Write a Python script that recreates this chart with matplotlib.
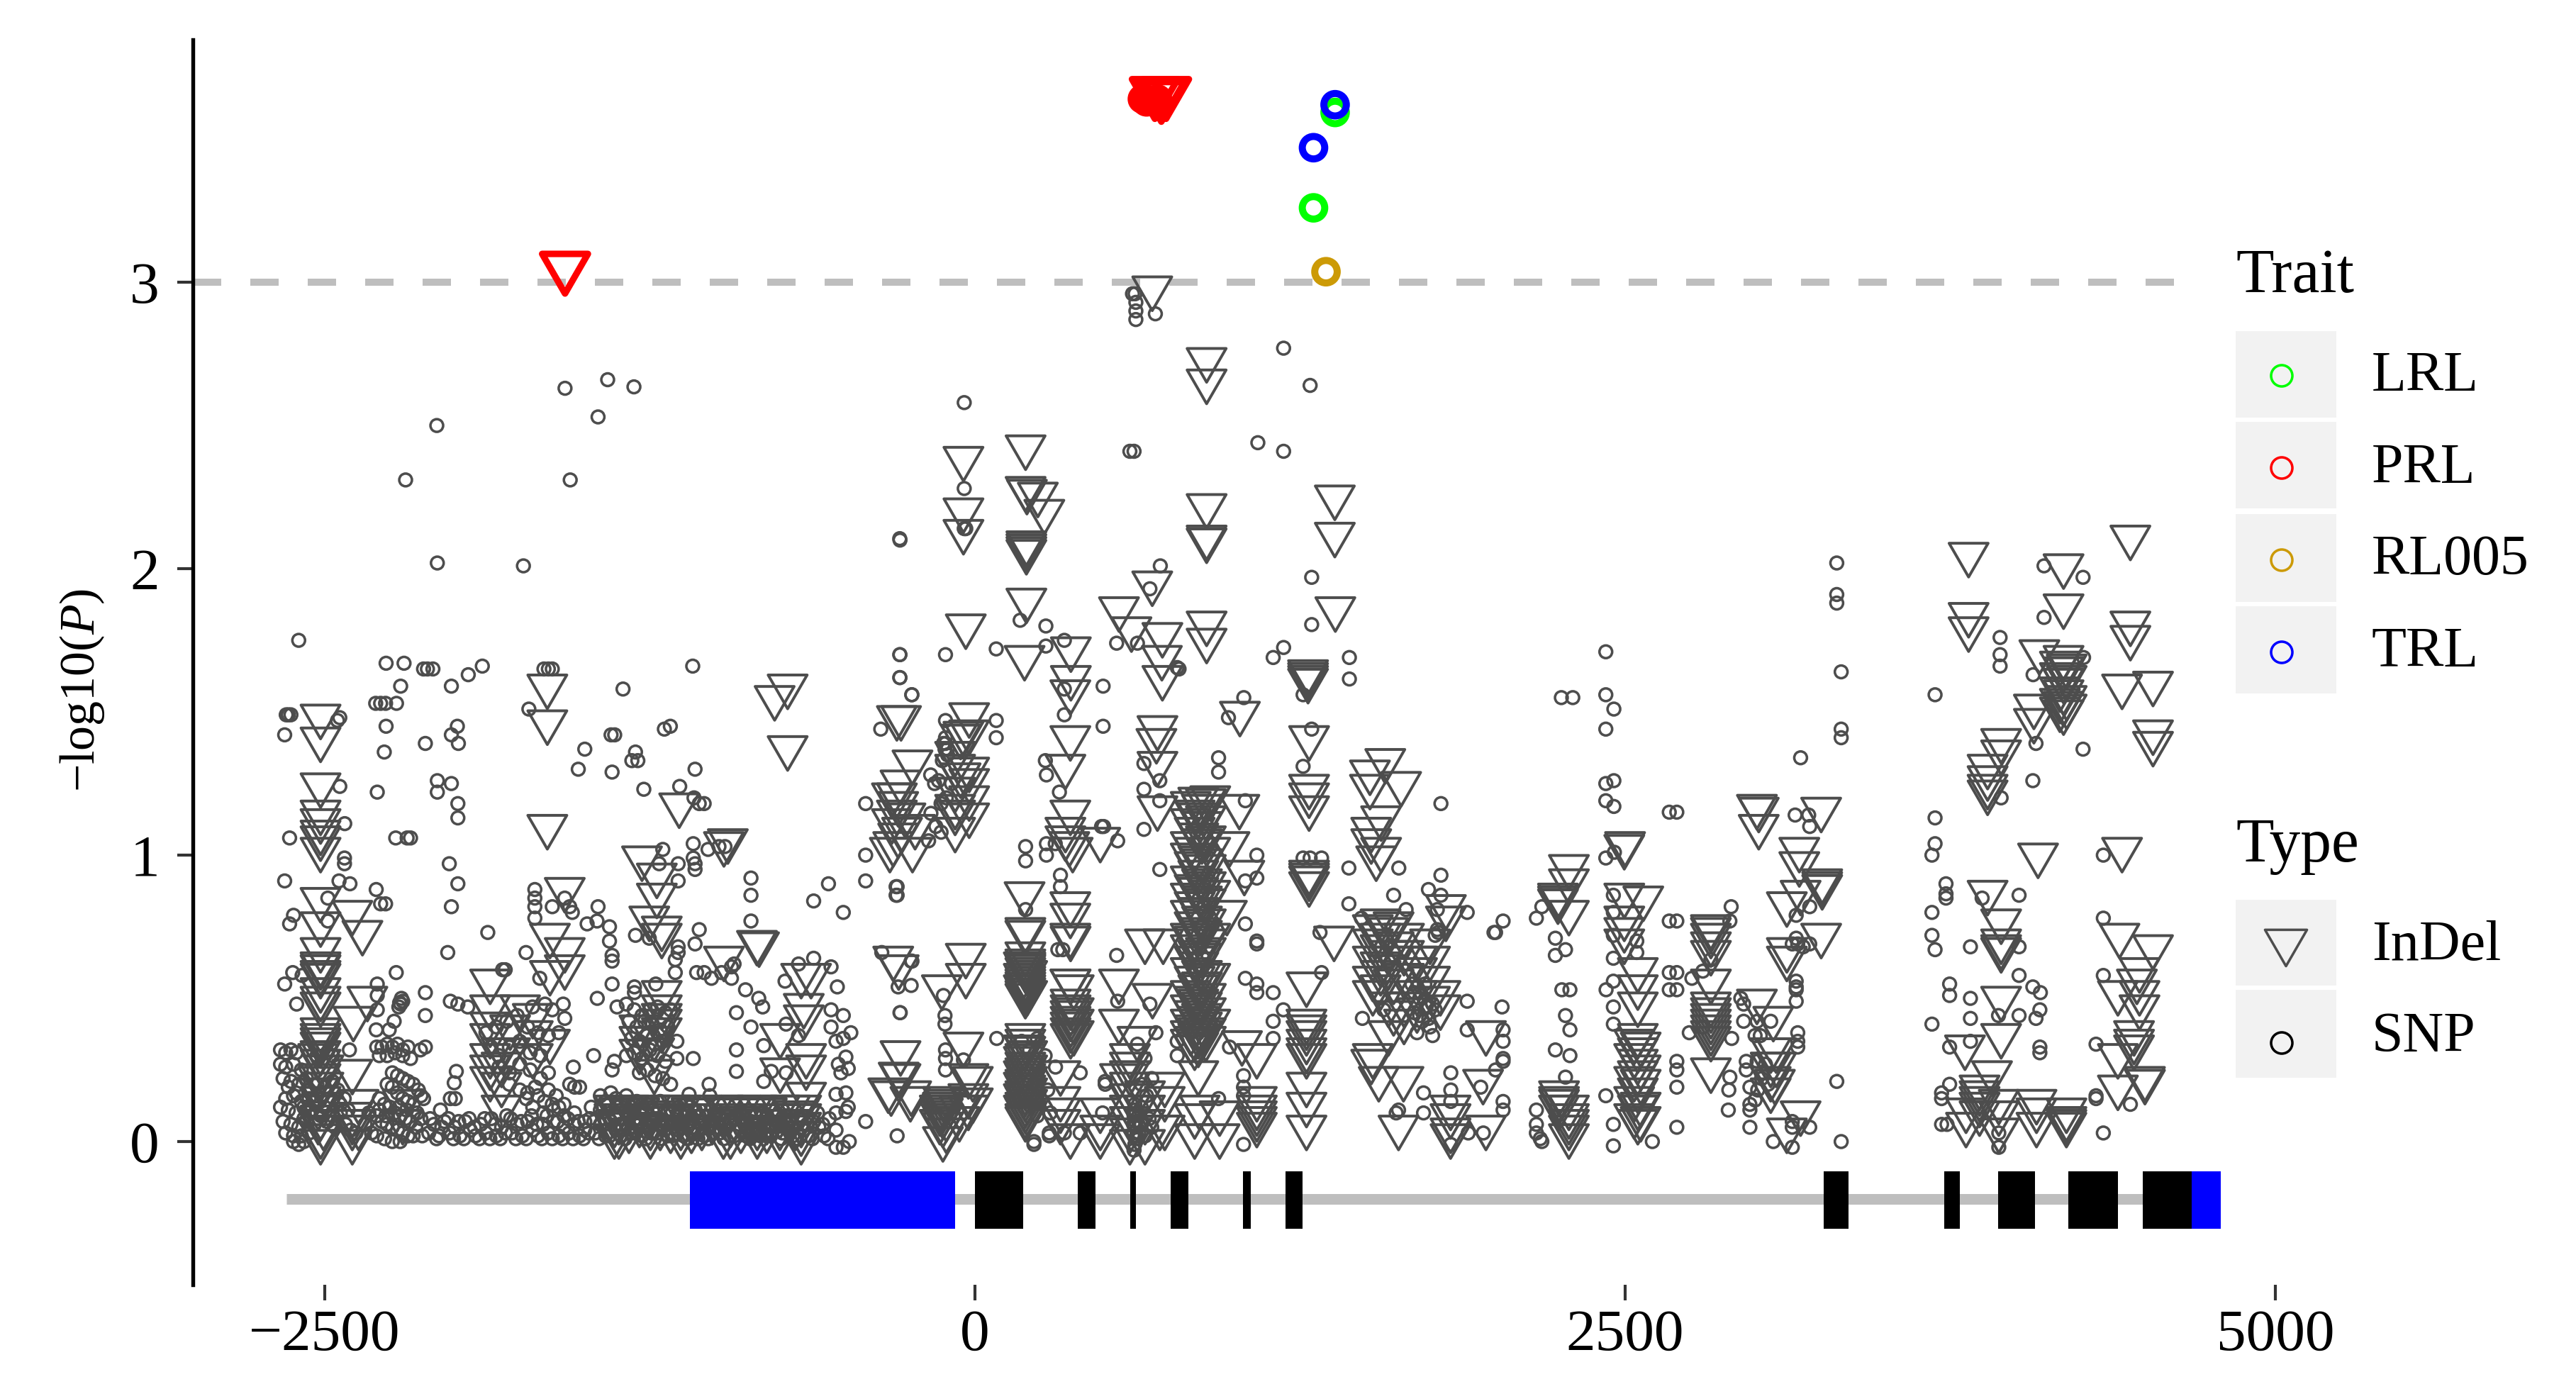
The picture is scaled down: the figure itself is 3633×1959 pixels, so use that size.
import matplotlib
matplotlib.use('Agg')
import matplotlib.pyplot as plt
from matplotlib.path import Path
from matplotlib.patches import Rectangle

W, H = 3633, 1959
DPI = 300

plt.rcParams['font.family'] = ['Liberation Serif', 'DejaVu Serif']
plt.rcParams['mathtext.fontset'] = 'custom'
plt.rcParams['mathtext.rm'] = 'Liberation Serif'
plt.rcParams['mathtext.it'] = 'Liberation Serif:italic'

# gene model
utr_start = [-1096, 4678]
utr_end = [-76, 4790]
exon_start = [0, 395, 598, 752, 1030, 1194, 3263, 3727, 3934, 4204, 4490]
exon_end = [185, 463, 618, 820, 1060, 1260, 3360, 3787, 4076, 4395, 4678]
gene_span = [-2648, 4678]
threshold = 3

# significant hits
lrl_x = [1385, 1302]
lrl_y = [3.593, 3.26]
trl_x = [1302, 1385]
trl_y = [3.47, 3.62]
rl005_x = [1350]
rl005_y = [3.037]
prl_snp_x = [644, 660, 673, 690, 702]
prl_snp_y = [3.64, 3.63, 3.637, 3.63, 3.64]
prl_indel_x = [-1576, 692, 717, 735]
prl_indel_y = [3.03, 3.64, 3.63, 3.64]

# SNPs, by region of the gene
snp_upper_left = [(-2600, 1.75), (-2067, 2.02), (-1736, 2.01), (-288, 2.10), (-288, 1.70), (-288, 1.62), (-242, 1.56), (-362, 1.44),
    (-2648, 1.49), (-2640, 1.49), (-2630, 1.49), (-2654, 1.42), (-2442, 1.48), (-2451, 1.47), (-2264, 1.67), (-2195, 1.67),
    (-2120, 1.65), (-2105, 1.65), (-2084, 1.65), (-2208, 1.59), (-1948, 1.63), (-1894, 1.66), (-2013, 1.59),
    (-2304, 1.53), (-2285, 1.53), (-2266, 1.53), (-2224, 1.53), (-2264, 1.45), (-2271, 1.36), (-2298, 1.22), (-2113, 1.39),
    (-1990, 1.45), (-2013, 1.42), (-1986, 1.39), (-2067, 1.26), (-2013, 1.25), (-2067, 1.22), (-1988, 1.18), (-1988, 1.13),
    (-2227, 1.06), (-2183, 1.06), (-2170, 1.06), (-2442, 1.24), (-2423, 1.11), (-2635, 1.06), (-2424, .99), (-2424, .97),
    (-2654, .91), (-2445, .91), (-2403, .90), (-2488, .85), (-2302, .88), (-2285, .83), (-2266, .83), (-2021, .97),
    (-1988, .90), (-2013, .82), (-1873, .73), (-2027, .66), (-1726, .66), (-2620, .79), (-2635, .76), (-2488, .77),
    (-2189, 2.31), (-2069, 2.50), (-1576, 2.63), (-1412, 2.66), (-1311, 2.635), (-1449, 2.53), (-1556, 2.31),
    (-1640, 1.65), (-1657, 1.65), (-1625, 1.65), (-1715, 1.51), (-1353, 1.58), (-1085, 1.66), (-1500, 1.37), (-1525, 1.30),
    (-1399, 1.42), (-1385, 1.42), (-1395, 1.29), (-1305, 1.36), (-1319, 1.33), (-1296, 1.33), (-1273, 1.23), (-1076, 1.30),
    (-1194, 1.44), (-1171, 1.45), (-1135, 1.24), (-1080, 1.20), (-1060, 1.18), (-1041, 1.18), (-1200, 1.02), (-1083, 1.04),
    (-1026, 1.02), (-984, 1.03), (-961, 1.03), (-1141, .97), (-1083, .99), (-1076, .97), (-1076, .95), (-1214, .97),
    (-1141, .91), (-861, .92), (-861, .86), (-861, .77), (-563, .90), (-620, .84), (-506, .80), (-420, 1.18), (-420, 1.0),
    (-420, .91), (-299, .89), (-299, .86), (-121, 1.39), (-115, 1.37), (-105, 1.35), (-125, 1.33), (-170, 1.28), (-155, 1.25),
    (-140, 1.26), (-169, 1.146), (-178, 1.05), (-150, 1.1), (-130, 1.08), (-130, 1.18), (-110, 1.2), (-90, 1.25)]

snp_mid_left = [(-2654, .55), (-2623, .59), (-2587, .58), (-2225, .59), (-2298, .55), (-2608, .48), (-2298, .51), (-2298, .46),
    (-2208, .48), (-2200, .49), (-2215, .47), (-2205, .5), (-2212, .485), (-2113, .52), (-2113, .44), (-2302, .39), (-2252, .39), (-2233, .42),
    (-2113, .33), (-2132, .32), (-2405, .32), (-1692, .88), (-1692, .85), (-1692, .82), (-1692, .78), (-1625, .82),
    (-1577, .85), (-1558, .82), (-1548, .80), (-1449, .82), (-1453, .77), (-1491, .76), (-1405, .75), (-1405, .70),
    (-1395, .65), (-1395, .63), (-1305, .72), (-1252, .71), (-1395, .55), (-1452, .50), (-1376, .47), (-1309, .54),
    (-1309, .52), (-1227, .55), (-1152, .59), (-1152, .635), (-1141, .68), (-1141, .66), (-1060, .74), (-1076, .69),
    (-1070, .59), (-1041, .59), (-1013, .57), (-974, .59), (-936, .61), (-926, .62), (-936, .57), (-882, .53), (-831, .50),
    (-816, .47), (-917, .45), (-861, .40), (-730, .56), (-678, .62), (-620, .64), (-553, .61), (-529, .54), (-812, .335),
    (-726, .41), (-678, .37), (-917, .32), (-917, .245), (-812, .21), (-1083, .29), (-783, .245), (-726, .24),
    (-553, .46), (-506, .44), (-477, .38), (-553, .40), (-506, .36), (-534, .35), (-496, .295), (-525, .27), (-487, .255),
    (-515, .24), (-534, .165), (-496, .17), (-487, .12), (-534, .10), (-496, .105), (-534, .04), (-534, -.02), (-506, -.02),
    (-483, 0), (-358, .66), (-242, .63), (-295, .54), (-288, .45), (-299, .02), (-420, .07), (-1583, .48), (-1577, .43),
    (-1544, .26), (-1466, .30), (-1386, .28), (-1395, .25), (-1146, .35), (-1146, .29), (-1099, .165), (-1022, .20),
    (-1019, .16), (-1994, .245), (-2002, .205), (-2017, .15), (-1998, .15), (-2055, .11), (-2017, .49), (-1988, .48),
    (-1950, .47), (-1806, .60), (-1816, .60), (-1673, .57), (-1701, .47), (-1653, .48), (-1625, .46), (-1558, .20),
    (-1539, .19), (-1520, .19)]

snp_dense_left = [(-2670, .32), (-2650, .31), (-2630, .32), (-2610, .31), (-2670, .27), (-2650, .26), (-2620, .27), (-2590, .25),
    (-2660, .22), (-2630, .21), (-2600, .2), (-2570, .22), (-2650, .15), (-2620, .16), (-2590, .14), (-2560, .15),
    (-2670, .12), (-2640, .11), (-2610, .1), (-2580, .12), (-2550, .11), (-2660, .07), (-2630, .06), (-2600, .05),
    (-2570, .07), (-2540, .06), (-2650, .03), (-2620, .02), (-2590, .02), (-2560, .03), (-2620, 0), (-2600, -.01), (-2580, 0),
    (-2530, .3), (-2510, .28), (-2490, .31), (-2470, .3), (-2530, .2), (-2500, .19), (-2470, .21), (-2450, .18), (-2530, .1),
    (-2500, .12), (-2470, .09), (-2440, .1), (-2420, .06), (-2400, .04), (-2380, .03), (-2560, .18), (-2545, .14), (-2530, .16),
    (-2515, .09), (-2490, .07), (-2460, .05), (-2440, .13), (-2425, .15), (-2410, .11), (-2640, .19), (-2610, .17), (-2580, .08),
    (-2300, .33), (-2280, .33), (-2260, .34), (-2240, .33), (-2220, .34), (-2200, .32), (-2180, .33), (-2290, .3), (-2260, .3),
    (-2230, .31), (-2200, .3), (-2170, .29), (-2240, .24), (-2220, .23), (-2200, .22), (-2180, .21), (-2160, .2), (-2140, .18),
    (-2130, .16), (-2120, .15), (-2260, .2), (-2240, .19), (-2220, .17), (-2200, .15), (-2180, .14), (-2160, .13), (-2290, .15),
    (-2270, .13), (-2250, .12), (-2230, .1), (-2210, .09), (-2190, .08), (-2170, .07), (-2300, .09), (-2280, .07), (-2260, .06),
    (-2240, .05), (-2220, .04), (-2200, .03), (-2180, .02), (-2160, .02), (-2150, .05), (-2300, .02), (-2270, .01), (-2240, 0),
    (-2210, 0), (-2330, .1), (-2345, .06), (-2320, .03), (-2290, .11), (-2265, .09), (-2215, .12), (-2185, .11), (-2145, .1),
    (-1880, .38), (-1840, .40), (-1800, .42), (-1760, .44), (-1720, .40), (-1680, .38), (-1640, .37), (-1600, .38), (-1860, .33),
    (-1830, .30), (-1790, .33), (-1750, .35), (-1710, .31), (-1670, .30), (-1830, .26), (-1790, .24), (-1750, .27), (-1710, .25),
    (-1670, .22), (-1640, .24), (-1790, .20), (-1750, .18), (-1720, .17), (-1680, .16), (-1640, .18), (-1610, .16), (-1580, .13),
    (-1700, .12), (-1660, .1), (-1620, .11), (-1580, .09), (-1540, .10), (-1500, .07), (-1725, .15), (-1690, .19), (-1655, .14),
    (-1625, .13), (-1600, .12),
    (-1340, .48), (-1310, .46), (-1280, .44), (-1250, .46), (-1220, .47), (-1190, .45), (-1170, .46), (-1330, .42), (-1300, .40),
    (-1270, .42), (-1240, .41), (-1210, .39), (-1180, .40), (-1320, .36), (-1290, .35), (-1260, .37), (-1230, .34), (-1200, .35),
    (-1340, .3), (-1310, .31), (-1280, .29), (-1250, .32), (-1220, .30), (-1190, .28), (-1290, .24), (-1260, .25), (-1230, .23),
    (-1200, .22), (-1170, .2), (-1440, .16), (-1420, .14), (-1400, .17), (-1380, .15), (-1360, .13), (-1340, .16), (-1320, .12),
    (-1300, .14), (-1280, .11), (-1260, .13)]

snp_baseline_left = [(-2130, .08), (-2100, .03), (-2080, .06), (-2060, .02), (-2040, .07), (-2020, .03), (-2000, .05), (-1980, .02),
    (-1960, .07), (-1940, .04), (-1920, .02), (-1900, .06), (-1880, .03), (-1860, .08), (-1840, .02), (-1820, .05),
    (-1800, .09), (-1780, .03), (-1760, .06), (-1740, .02), (-1720, .07), (-1700, .04), (-1680, .02), (-1660, .06),
    (-1640, .03), (-1620, .07), (-1600, .02), (-1580, .05), (-1560, .03), (-1540, .06), (-1520, .02), (-1500, .04),
    (-1480, .08), (-1460, .03), (-1440, .06), (-1420, .02), (-1400, .07), (-1380, .04), (-1360, .02), (-1340, .06),
    (-1320, .03), (-1300, .08), (-1280, .02), (-1260, .05), (-1240, .08), (-1220, .03), (-1200, .06), (-1180, .02),
    (-1160, .07), (-1140, .04), (-1120, .02), (-1100, .06), (-1080, .03), (-1060, .09), (-1040, .02), (-1020, .05),
    (-1000, .1), (-980, .03), (-960, .06), (-940, .02), (-920, .08), (-900, .04), (-880, .02), (-860, .07), (-840, .03),
    (-820, .1), (-800, .02), (-780, .05), (-760, .09), (-740, .03), (-720, .06), (-700, .02), (-680, .08), (-660, .04),
    (-640, .02), (-620, .07), (-600, .05), (-580, .02), (-560, .08)]

snp_baseline_more = [(-2125, .02), (-2095, .08), (-2070, .01), (-2050, .05), (-2025, .08), (-2005, .01), (-1985, .07), (-1965, .01),
    (-1945, .08), (-1925, .05), (-1905, .01), (-1885, .08), (-1865, .01), (-1845, .06), (-1825, .01), (-1805, .03),
    (-1785, .08), (-1765, .01), (-1745, .07), (-1725, .01), (-1705, .09), (-1685, .06), (-1665, .01), (-1645, .09),
    (-1625, .01), (-1605, .07), (-1585, .01), (-1565, .08), (-1545, .01), (-1525, .07), (-1505, .01), (-1485, .03),
    (-1465, .07), (-1445, .01), (-1425, .08), (-1405, .02), (-1385, .09), (-1365, .06), (-1345, .01), (-1325, .09),
    (-1305, .03), (-1285, .07), (-1265, .01), (-1245, .03), (-1225, .08), (-1205, .01), (-1185, .07), (-1165, .02),
    (-1145, .09), (-1125, .06), (-1105, .01), (-1085, .08), (-1065, .01), (-1045, .07), (-1025, .01), (-1005, .03),
    (-985, .09), (-965, .01), (-945, .07), (-925, .02), (-905, .1), (-885, .06), (-865, .01), (-845, .09), (-825, .02),
    (-805, .08), (-785, .02), (-765, .06), (-745, .01), (-725, .09), (-705, .05), (-685, .01), (-665, .09), (-645, .06),
    (-625, .01), (-605, .1), (-585, .06), (-565, .01), (-1475, .12), (-1440, .11), (-1410, .13), (-1375, .12), (-1340, .11),
    (-1310, .13), (-1275, .12), (-1240, .11), (-1210, .14), (-1180, .11), (-1140, .12), (-1110, .13), (-1075, .11)]

snp_centre = [(-41, 2.58), (1187, 2.77), (1289, 2.64), (1088, 2.44), (1187, 2.41), (596, 2.41), (612, 2.41), (616, 2.96), (606, 2.96),
    (619, 2.93), (619, 2.90), (619, 2.87), (694, 2.89), (-41, 2.28), (-41, 2.14), (-35, 2.14), (-289, 2.105), (713, 2.01),
    (673, 1.93), (1295, 1.97), (1295, 1.805), (174, 1.82), (273, 1.80), (82, 1.72), (273, 1.73), (344, 1.75), (-113, 1.70),
    (-289, 1.70), (-289, 1.62), (-243, 1.56), (545, 1.74), (625, 1.74), (1187, 1.725), (1147, 1.69), (1440, 1.69), (1440, 1.615),
    (778, 1.655), (785, 1.65), (493, 1.59), (344, 1.58), (344, 1.49), (493, 1.45), (1034, 1.55), (975, 1.48), (1262, 1.56),
    (1295, 1.44), (-113, 1.47), (82, 1.47), (82, 1.41), (-113, 1.41), (-113, 1.39), (-105, 1.37), (271, 1.33), (275, 1.28),
    (325, 1.22), (650, 1.32), (711, 1.26), (650, 1.23), (711, 1.19), (650, 1.09), (937, 1.34), (937, 1.29), (1040, 1.19),
    (1262, 1.31), (195, 1.03), (195, .98), (275, 1.04), (275, 1.0), (309, 1.04), (495, 1.10), (487, 1.10), (549, 1.05),
    (1084, 1.0), (1084, .92), (1040, .91), (711, .95), (1262, .99), (1289, .99), (1333, .99), (1438, .955), (1630, .955),
    (1792, .93), (1792, 1.18), (1438, .83), (1486, .78), (1658, .81), (1610, .86), (1744, .88), (1792, .86), (1778, .81), (1778, .74),
    (1782, .73), (1770, .72), (1893, .80), (2031, .77), (2002, .73), (1996, .73), (-303, .89), (-303, .86), (195, .81), (329, .93),
    (329, .89), (319, .67), (338, .67), (545, .65), (549, .49), (673, .48), (1040, .76), (1084, .70), (1084, .69), (1327, .73),
    (1040, .57), (1084, .55), (1084, .52), (1147, .52), (1186, .46), (1147, .42), (1147, .36), (1333, .59), (1572, .46),
    (1490, .43), (1893, .49), (2027, .47), (1893, .39), (-245, .63), (-245, .545), (-287, .45), (-121, .51), (-115, .44), (-115, .41),
    (-113, .32), (-113, .29), (-44, .285), (-113, .25), (84, .36), (227, 0), (227, -.01), (286, .03), (286, .02), (344, .03),
    (405, .24), (405, .03), (501, .21), (501, .2), (491, .10), (696, .38), (625, .34), (654, .29), (778, .35), (778, .30),
    (979, .33), (937, .15), (1033, .23), (1033, .19), (1033, .16), (1033, -.01), (1830, .24), (1725, .17), (1830, .18), (1830, .14),
    (1629, .11), (1620, .10), (1725, .10), (1830, -.01), (1897, .03), (1955, .03), (2031, .39), (2031, .35), (2031, .29), (2031, .28),
    (2002, .25), (1945, .19), (2031, .14), (2031, .11), (180, .35), (210, .32), (240, .36), (270, .3), (200, .25), (240, .22),
    (280, .18), (310, .26), (190, .12), (240, .09), (290, .1), (640, .2), (660, .16), (680, .22), (640, .12), (670, .08), (640, .06),
    (630, .03), (655, .02), (680, .05), (1680, .55), (1710, .5), (1730, .55), (1760, .48), (1690, .45), (1720, .42), (1750, .4),
    (615, .13), (615, .11), (612, .09), (618, .07), (615, .05), (612, .03), (618, .01), (615, -.01), (612, -.03),
    (620, .1), (610, .06), (622, .02), (1690, .52), (1710, .44), (1735, .47), (1745, .43), (1770, .46), (1700, .38), (1760, .37)]

snp_right = [(3314, 2.02), (3314, 1.91), (3314, 1.88), (3331, 1.64), (3331, 1.44), (3331, 1.41), (3175, 1.34), (2426, 1.71), (2426, 1.56),
    (2457, 1.51), (2426, 1.44), (2255, 1.55), (2299, 1.55), (2426, 1.25), (2457, 1.26), (2426, 1.19), (2457, 1.17), (2670, 1.15),
    (2699, 1.15), (3154, 1.14), (3206, 1.14), (3210, 1.10), (2459, 1.01), (2426, .99), (3942, 1.76), (3942, 1.70), (3942, 1.66),
    (3692, 1.56), (4111, 2.01), (4261, 1.97), (4111, 1.83), (4263, 1.69), (4069, 1.63), (4080, 1.39), (4261, 1.37), (4068, 1.26),
    (3946, 1.2), (3692, 1.13), (3692, 1.04), (3680, 1.0), (3734, .90), (3734, .865), (3734, .85), (3680, .80), (3680, .72),
    (3692, .67), (4015, .86), (3873, .85), (3828, .68), (4015, .68), (4339, 1.0), (4339, .78), (4339, .58), (3748, .55),
    (3748, .51), (3828, .50), (4015, .58), (4068, .54), (4097, .52), (4095, .46), (4080, .43), (4015, .44), (3680, .41),
    (3828, .43), (3828, .35), (3748, .33), (4095, .33), (4095, .31), (4311, .34), (3936, .44), (4311, .16), (4311, .15),
    (4339, .03), (3717, .17), (3717, .15), (3748, .2), (3717, .06), (3738, .06), (3937, .03), (3937, -.02), (4443, .13),
    (2159, .78), (2180, .82), (2232, .71), (2271, .67), (2232, .65), (2257, .53), (2288, .53), (2271, .44), (2288, .39),
    (2232, .32), (2288, .30), (2271, .225), (2159, .11), (2159, .06), (2159, .03), (2180, 0), (2174, .01), (2426, .16), (2455, .06),
    (2455, -.015), (2699, .28), (2699, .25), (2699, .19), (2699, .05), (2605, 0), (2455, .86), (2455, .80), (2455, .72),
    (2545, .70), (2545, .66), (2455, .64), (2427, .53), (2455, .56), (2455, .47), (2455, .41), (2670, .77), (2699, .77),
    (2670, .59), (2699, .59), (2670, .53), (2699, .53), (2757, .57), (2799, .595), (2908, .82), (2903, .77), (2830, .635),
    (2747, .38), (2799, .40), (2910, .36), (2903, .225), (2899, .18), (2897, .11), (2980, .19), (2980, .13), (2980, .11),
    (3000, .145), (2980, .05), (3070, 0), (3143, -.02), (3210, .05), (2945, .5), (2956, .48), (2956, .42), (3008, .42),
    (3060, .42), (3000, .37), (3020, .37), (2966, .28), (2966, .25), (3008, .28), (3040, .27), (3158, .71), (3143, .69),
    (3164, .69), (3185, .68), (3158, .56), (3158, .54), (3158, .53), (3158, .49), (3164, .38), (3164, .35), (3164, .33),
    (3143, .07), (3143, .05), (3314, .21), (3331, 0), (3210, .69), (3158, .79), (3210, .82), (3025, .22), (3050, .2), (3010, .18)]

# InDels as (x, [y, y, ...]) columns
indel_left = [(-2516, [1.465, 1.385, 1.225, 1.13, 1.10, 1.06, 1.04, 1.0, .825, .74, .65, .60, .59, .57, .56, .51, .48, .46, .37, .35, .335,
        .32, .29, .26, .21, .13, .065, 0, -.02]), (-2525, [.28, .2, .16, .1, .05]), (-2505, [.24, .18, .11, .03]),
    (-2394, [.78, .225, .075, .05, .03, -.02]), (-2355, [.71]), (-2336, [.48]), (-2390, [.41]), (-2370, [.12, .03]),
    (-1644, [1.57, 1.445, 1.08]), (-1577, [.86, .65, .59]), (-1634, [.70, .57, .33]), (-1864, [.54, .45, .39, .35, .28, .24, .20]),
    (-1749, [.45]), (-1787, [.38, .3]), (-1700, [.42, .36, .28]), (-1820, [.30, .25, .18, .1]), (-1280, [.97]), (-1223, [.91, .84]), (-1252, [.76]),
    (-1204, [.725, .70, .50, .45, .42, .40, .37]), (-1290, [.38, .34, .295]), (-1233, [.34, .30, .225]),
    (-1137, [1.155]), (-950, [1.03]), (-965, [1.02, .62]), (-720, [1.57, 1.355]), (-770, [1.53]),
    (-838, [.675]), (-830, [.67]), (-668, [.56]), (-630, [.56]), (-658, [.455, .415]), (-749, [.35, .23]),
    (-649, [.28, .24, .145]), (-2200, [.12, .05]), (-300, [1.46, 1.19, 1.13]), (-22, [1.47, 1.41, 1.28, 1.24, 1.18, 1.12]),
    (-55, [1.395, 1.26]), (-76, [1.335, 1.29, 1.21, 1.15, 1.13, 1.07]), (-240, [1.305, 1.0]), (-286, [1.235, .29, .21]),
    (-319, [1.19, 1.1]), (-295, [1.16, 1.05]), (-327, [1.0]), (-333, [.16]), (-314, [1.02, .62]), (-267, [1.12]), (-230, [1.08]), (-248, [.13]), (-280, [1.07])]

indel_baseline = [(-1386, [.1, .07, .04, .0]), (-1369, [.09, .05, 0]), (-1330, [.1, .06, .02]), (-1290, [.09, .04]), (-1248, [.1, .07, .03, 0]), (-1210, [.08, .03]),
    (-1170, [.1, .06, .02]), (-1131, [.1, .07, .03, 0]), (-1090, [.09, .05, .02]), (-1050, [.1, .07, .03]), (-1010, [.09, .05]), (-967, [.1, .07, 0]),
    (-940, [.09, .04, 0]), (-900, [.1, .06, .02]), (-860, [.09, .05]), (-837, [.1, .07, .03, 0]), (-800, [.09, .05, .02]), (-750, [.1, .07, .03, 0]),
    (-710, [.1, .05]), (-668, [.1, .07, .04, .01, -.02]), (-690, [.08, .03])]

indel_centre = [(682, [2.96, 1.93]), (891, [2.71, 2.635, 2.20, 2.09, 2.08, 1.79, 1.73]), (195, [2.405, 2.26]), (-44, [2.365, 2.185, 2.11, 1.405, .32]),
    (200, [2.25]), (242, [2.24]), (267, [2.18]), (198, [2.07, 2.06, 2.05, 2.04, 1.87]), (1384, [2.23, 2.10]), (-35, [1.78, .63, .56]),
    (1386, [1.84]), (554, [1.84, .54, .40]), (602, [1.77]), (721, [1.75, 1.60]), (191, [1.67, .845]), (369, [1.70, 1.60]),
    (719, [1.67]), (367, [1.55, 1.39, 1.13, .81, .77, .70, .54, 0]), (1019, [1.475]), (1281, [1.62, 1.61, 1.60, 1.59]),
    (-284, [1.46]), (702, [1.425, 1.30, 1.145]), (698, [1.38]), (348, [1.29, 1.07, 1.04]), (1285, [1.39, 1.22, 1.19, 1.145, .92, .91, .90, .88]),
    (1578, [1.31]), (1519, [1.27, 1.22]), (1639, [1.23]), (1562, [1.11, 1.0]), (1524, [1.07, 1.03, .26]), (1543, [.97]),
    (363, [1.02]), (376, [1.0]), (482, [1.035, .09, .03, 0]),
    (830, [1.16, 1.1, 1.02, .98, .9, .84, .78, .7, .66, .58, .5, .45, .4, .36, .33]),
    (845, [1.13, 1.07, 1.0, .95, .87, .81, .74, .69, .62, .55, .48, .43, .38, .34, .31]),
    (859, [1.175, 1.12, 1.05, .97, .92, .86, .79, .72, .64, .6, .52, .47, .41, .37, .35, .32, .22]),
    (873, [1.15, 1.09, 1.03, .96, .89, .83, .76, .71, .63, .57, .53, .46, .42, .39, .36]),
    (888, [1.17, 1.11, 1.04, .94, .88, .82, .75, .68, .65, .56, .49, .44, .37, .34]),
    (905, [1.18, 1.0, .85, .7, .56, .4]), (1017, [1.15]), (1036, [.92]), (979, [1.02]), (969, [.78]),
    (654, [.68]), (724, [.68]), (2500, [1.02]),
    (194, [.72, .71, .635, .61, .60, .595, .59, .58, .55, .54, .53, .52, .51, .5, .49, .35, .33, .305, .28, .25, .23, .21, .19, .17, .15, .13, .11, .09, .07, .06]),
    (188, [.6, .56, .52, .31, .27, .22, .18, .14, .1]), (201, [.57, .5, .29, .24, .2, .16, .12, .08]),
    (368, [.69, .54, .47, .45, .43, .41, .39, .37, .35]), (380, [.52, .44, .4, .36]),
    (-123, [.13, .11, .09, .07, .04, -.01]), (-110, [.12, .06, .02]), (-135, [.1, .05, .08]), (-8, [.2, .125]), (-60, [.06, .1]),
    (-127, [.52]), (-293, [.59, .215]), (-245, [.15]), (-322, [.15]),
    (1381, [.69]), (1275, [.53, .40, .38, .36, .33, .30, .28, .18, .11, .03]), (683, [.49]), (625, [.34]), (596, [.28, .25, .22, .18, .14, .1, .06, .02, -.02]),
    (1027, [.325]), (1084, [.28, .13, .10, .08, .06, .04]), (864, [.1]), (730, [.18, .13, .03]), (558, [.21]), (329, [.22, .13, .09, .05]), (-25, [.21, .14, .1]),
    (654, [.15, .1, .05, -.02]), (711, [.03]), (845, [.07, 0]), (941, [.08, 0]), (1629, [.03]), (1553, [.2]), (1648, [.2]),
    (1530, [.73, .68, .62, .55, .5, .28]), (1560, [.75, .7, .66, .6, .57, .52]), (1590, [.72, .64, .59, .46, .36]), (1610, [.74, .67, .62, .54, .43]),
    (1650, [.7, .64, .56, .46, .4]), (1700, [.62, .58, .5, .44]), (1811, [.80, .76]), (1790, [.5, .45]), (1750, [.68, .62, .55, .48])]

indel_right = [(3821, [2.03, 1.82, 1.77]), (4443, [2.09, 1.79, 1.74]), (4186, [1.99, 1.85]), (4093, [1.69]),
    (4172, [1.65, 1.61, 1.56, 1.52, 1.49]), (4186, [1.67, 1.63, 1.59, 1.55, 1.51, 1.48]), (4198, [1.64, 1.6, 1.53, 1.5]), (4411, [1.57, 1.0]), (4530, [1.58, 1.41, 1.37, .66]),
    (3946, [1.38, 1.34, .75, .68, .66, .65, .48, .35]), (4072, [1.5, 1.45]), (3894, [1.29, 1.25, 1.22, 1.2, .85]), (3007, [1.15, .47]), (3014, [1.14, 1.08]),
    (3254, [1.14, .70]), (2497, [1.01, .84, .76, .72, .68]), (4088, [.98]), (3170, [1.0, .95]), (3175, [.85, .08]), (3258, [.89, .88, .87]),
    (3122, [.81, .65, .62, .02]), (2284, [.94, .89, .78, .10, .07, .05, .03, 0]), (2242, [.84, .83, .82]), (2570, [.83]), (4401, [.70]), (4478, [.58, .50, .45]),
    (4468, [.54]), (2830, [.73, .72, .70, .67, .64, .54, .46, .44, .42, .40, .38, .36, .34, .23]), (2549, [.58, .52, .46, .35, .30, .26, .22, .16, .10, .05]),
    (2535, [.33, .28, .2, .13, .07]), (2560, [.32, .24, .19, .11, .06]),
    (3070, [.41]), (3081, [.30, .25]), (3076, [.19]), (3807, [.31]), (3911, [.22]), (4395, [.50, .28, .17]), (4457, [.36, .33, .31]), (4499, [.2, .19]), (2246, [.15, .13, .12, .10]),
    (1965, [.36, .03]), (1829, [.10, .07, .02, 0]), (1954, [.19]), (4082, [.12, .09, .04]), (4197, [.09, .06, .05, .04]), (3863, [.17, .15, .13, .11, .08]), (3811, [.09, .04]),
    (3937, [.12, .08, .02]), (3060, [.3, .25, .2, .16])]


def expand(cols):
    xs, ys = [], []
    for x, vals in cols:
        xs += [x] * len(vals)
        ys += vals
    return xs, ys


W_TRI = Path([(-.5, .433), (.5, .433), (0, -.433), (-.5, .433)], closed=True)
GREY = '#4D4D4D'

fig = plt.figure(figsize=(W / DPI, H / DPI), dpi=DPI)
ax = fig.add_axes([272 / W, 1 - 1812 / H, (3240 - 272) / W, (1812 - 56) / H])
ax.set_xlim(-3007, 5085)
ax.set_ylim(-0.5, 3.847)

ax.plot([-3007, 4680], [threshold, threshold], color='#BEBEBE', lw=2.4, dashes=(4.0, 4.1), zorder=1)
ax.plot(gene_span, [-0.2, -0.2], color='#BEBEBE', lw=3.6, solid_capstyle='butt', zorder=1)
for starts, ends, colour in [(utr_start, utr_end, '#0000FF'), (exon_start, exon_end, 'black')]:
    ax.barh([-0.204] * len(starts), [e - s for s, e in zip(starts, ends)], left=starts, height=0.2, color=colour, zorder=2)

snp_all = snp_upper_left + snp_mid_left + snp_dense_left + snp_baseline_left + snp_baseline_more + snp_centre + snp_right
ax.scatter([p[0] for p in snp_all], [p[1] for p in snp_all], s=4.3**2, facecolors='none', edgecolors=GREY, linewidths=0.85, zorder=3)
ix, iy = expand(indel_left + indel_baseline + indel_centre + indel_right)
ax.scatter(ix, iy, s=13.2**2, marker=W_TRI, facecolors='none', edgecolors=GREY, linewidths=0.95, zorder=3)

ax.scatter(prl_indel_x, prl_indel_y, s=15.5**2, marker=W_TRI, facecolors='none', edgecolors='#FF0000', linewidths=2.2, zorder=4)
for xs, ys, colour in [(prl_snp_x, prl_snp_y, '#FF0000'), (lrl_x, lrl_y, '#00FF00'), (trl_x, trl_y, '#0000FF'), (rl005_x, rl005_y, '#CC9A06')]:
    ax.scatter(xs, ys, s=7.6**2, facecolors='none', edgecolors=colour, linewidths=2.4, zorder=4)

for side in ['top', 'right', 'bottom']:
    ax.spines[side].set_visible(False)
ax.spines['left'].set_linewidth(1.3)
ax.set_xticks([-2500, 0, 2500, 5000])
ax.set_xticklabels(['\u22122500', '0', '2500', '5000'])
ax.set_yticks([0, 1, 2, 3])
ax.tick_params(axis='both', labelsize=20, length=5.3, width=1.0, color='#333333', labelcolor='black')
ax.tick_params(axis='x', pad=3)
ax.tick_params(axis='y', pad=6)

# legend, laid out in figure pixels
leg = fig.add_axes([0, 0, 1, 1])
leg.axis('off')
leg.patch.set_alpha(0)
fig.text(116 / W, 1 - 973 / H, r'$-$log10($\mathit{P}$)', rotation=90, ha='center', va='center', fontsize=16.8)

key_tops = [467, 595, 725, 855, 1269, 1396]
key_h = [122, 122, 124, 123, 121, 124]
for top, h in zip(key_tops, key_h):
    leg.add_patch(Rectangle((3153, top), 142, h, facecolor='#F2F2F2', edgecolor='none'))

leg.text(3153, 412, 'Trait', fontsize=21, ha='left', va='baseline')
leg.text(3153, 1215, 'Type', fontsize=21, ha='left', va='baseline')
trait_labels = ['LRL', 'PRL', 'RL005', 'TRL']
trait_colours = ['#00FF00', '#FF0000', '#CC9A06', '#0000FF']
for name, colour, cy, base in zip(trait_labels, trait_colours, [530, 660, 790, 920], [551, 681, 810, 940]):
    leg.scatter([3218], [cy], s=7.2**2, facecolors='none', edgecolors=colour, linewidths=0.85)
    leg.text(3345, base, name, fontsize=19.2, ha='left', va='baseline')
leg.scatter([3224], [1337], s=14.2**2, marker=W_TRI, facecolors='none', edgecolors=GREY, linewidths=0.85)
leg.text(3345, 1354, 'InDel', fontsize=19.2, ha='left', va='baseline')
leg.scatter([3218], [1471], s=7.2**2, facecolors='none', edgecolors='black', linewidths=0.85)
leg.text(3345, 1483, 'SNP', fontsize=19.2, ha='left', va='baseline')
leg.set_xlim(0, W)
leg.set_ylim(H, 0)

fig.savefig('out.png', dpi=DPI)
